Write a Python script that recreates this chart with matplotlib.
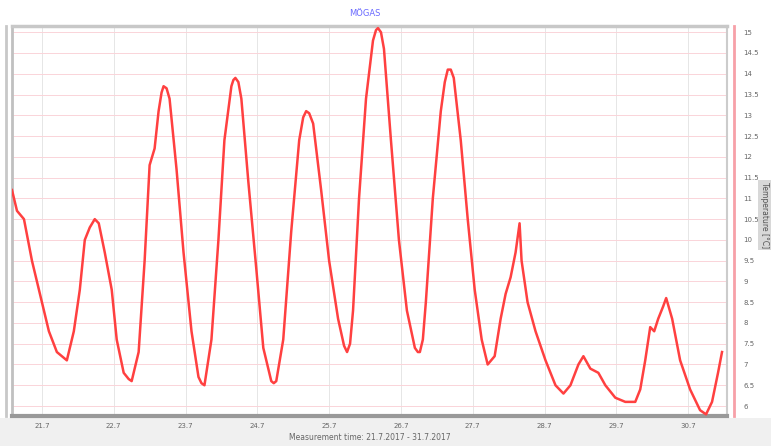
import matplotlib
matplotlib.use("Agg")
import matplotlib.pyplot as plt
import pandas as pd

title = "MÖGAS"
x_label = "Measurement time: 21.7.2017 - 31.7.2017"
y_label = "Temperature [°C]"

times = [
    "2017-07-20 14:00", "2017-07-20 15:40", "2017-07-20 18:00", "2017-07-20 20:40",
    "2017-07-21 00:00", "2017-07-21 02:20", "2017-07-21 05:00", "2017-07-21 08:20",
    "2017-07-21 10:40", "2017-07-21 12:40", "2017-07-21 14:20", "2017-07-21 16:00",
    "2017-07-21 17:40", "2017-07-21 19:00", "2017-07-21 21:00", "2017-07-21 23:20",
    "2017-07-22 01:00", "2017-07-22 03:20", "2017-07-22 05:00", "2017-07-22 06:00", "2017-07-22 08:20",
    "2017-07-22 10:20", "2017-07-22 12:00", "2017-07-22 13:40", "2017-07-22 15:00",
    "2017-07-22 16:00", "2017-07-22 16:40", "2017-07-22 17:40", "2017-07-22 18:40", "2017-07-22 21:00", "2017-07-22 23:20",
    "2017-07-23 02:00", "2017-07-23 04:20", "2017-07-23 05:20", "2017-07-23 06:20", "2017-07-23 08:40",
    "2017-07-23 11:00", "2017-07-23 13:00", "2017-07-23 15:20", "2017-07-23 16:00", "2017-07-23 16:40",
    "2017-07-23 17:40", "2017-07-23 18:40", "2017-07-23 21:00", "2017-07-23 23:40", "2017-07-24 02:00",
    "2017-07-24 04:40", "2017-07-24 05:30", "2017-07-24 06:20", "2017-07-24 08:40", "2017-07-24 11:20",
    "2017-07-24 14:00", "2017-07-24 15:20", "2017-07-24 16:20", "2017-07-24 17:20", "2017-07-24 18:40", "2017-07-24 21:20",
    "2017-07-25 00:00", "2017-07-25 03:00", "2017-07-25 05:00", "2017-07-25 06:00", "2017-07-25 07:00", "2017-07-25 08:00",
    "2017-07-25 10:00", "2017-07-25 12:20", "2017-07-25 14:40", "2017-07-25 15:40", "2017-07-25 16:20",
    "2017-07-25 17:20", "2017-07-25 18:20", "2017-07-25 20:40", "2017-07-25 23:20", "2017-07-26 02:00",
    "2017-07-26 04:40", "2017-07-26 05:40", "2017-07-26 06:20", "2017-07-26 07:20", "2017-07-26 08:20", "2017-07-26 10:40",
    "2017-07-26 13:20", "2017-07-26 14:40", "2017-07-26 15:40", "2017-07-26 16:40", "2017-07-26 17:40", "2017-07-26 20:00",
    "2017-07-26 22:20", "2017-07-27 00:40", "2017-07-27 03:00", "2017-07-27 05:00",
    "2017-07-27 07:20", "2017-07-27 09:20", "2017-07-27 11:00", "2017-07-27 12:40",
    "2017-07-27 14:20", "2017-07-27 15:40", "2017-07-27 16:20", "2017-07-27 18:20",
    "2017-07-27 21:00", "2017-07-28 00:20", "2017-07-28 03:40", "2017-07-28 06:20",
    "2017-07-28 08:40", "2017-07-28 11:20", "2017-07-28 13:00", "2017-07-28 15:20",
    "2017-07-28 18:00", "2017-07-28 20:20", "2017-07-28 23:40", "2017-07-29 03:00",
    "2017-07-29 06:20", "2017-07-29 08:00", "2017-07-29 09:40", "2017-07-29 11:20",
    "2017-07-29 12:40", "2017-07-29 14:00", "2017-07-29 15:40", "2017-07-29 16:40",
    "2017-07-29 18:40", "2017-07-29 21:20", "2017-07-30 00:40", "2017-07-30 04:00",
    "2017-07-30 06:00", "2017-07-30 08:00", "2017-07-30 10:00", "2017-07-30 11:20",
]
values = [
    11.2, 10.7, 10.5, 9.5,
    8.5, 7.8, 7.3, 7.1,
    7.8, 8.8, 10.0, 10.3,
    10.5, 10.4, 9.7, 8.8,
    7.6, 6.8, 6.65, 6.6, 7.3,
    9.5, 11.8, 12.2, 13.1,
    13.55, 13.7, 13.65, 13.4, 11.7, 9.7,
    7.8, 6.7, 6.55, 6.5, 7.6,
    10.0, 12.4, 13.7, 13.85, 13.9,
    13.8, 13.4, 11.4, 9.3, 7.4,
    6.6, 6.55, 6.6, 7.6, 10.2,
    12.4, 12.95, 13.1, 13.05, 12.8, 11.2,
    9.5, 8.1, 7.45, 7.3, 7.5, 8.3,
    11.0, 13.4, 14.8, 15.05, 15.1,
    15.0, 14.6, 12.4, 10.0, 8.3,
    7.4, 7.3, 7.3, 7.6, 8.5, 11.0,
    13.1, 13.8, 14.1, 14.1, 13.9, 12.4,
    10.5, 8.8, 7.6, 7.0,
    7.2, 8.1, 8.7, 9.1,
    9.7, 10.4, 9.5, 8.5,
    7.8, 7.1, 6.5, 6.3,
    6.5, 7.0, 7.2, 6.9,
    6.8, 6.5, 6.2, 6.1,
    6.1, 6.4, 7.1, 7.9,
    7.8, 8.1, 8.4, 8.6,
    8.1, 7.1, 6.4, 5.9,
    5.8, 6.1, 6.8, 7.3,
]
day_ticks = ["2017-07-21", "2017-07-22", "2017-07-23", "2017-07-24", "2017-07-25",
             "2017-07-26", "2017-07-27", "2017-07-28", "2017-07-29", "2017-07-30"]
day_labels = ["21.7", "22.7", "23.7", "24.7", "25.7", "26.7", "27.7", "28.7", "29.7", "30.7"]
y_ticks = [6, 6.5, 7, 7.5, 8, 8.5, 9, 9.5, 10, 10.5, 11, 11.5, 12, 12.5, 13, 13.5, 14, 14.5, 15]

t = pd.to_datetime(times)
ticks = pd.to_datetime(day_ticks)

W, H = 771, 446
fig = plt.figure(figsize=(W / 100, H / 100), dpi=100)
fig.patch.set_facecolor("white")
fig.add_artist(plt.Rectangle((0, 0), 1, 28 / H, transform=fig.transFigure,
                             facecolor="#f0f0f0", edgecolor="none", zorder=0))

ax = fig.add_axes([12 / W, 30 / H, (727 - 12) / W, (420 - 30) / H])
ax.set_facecolor("white")

ax.plot(t, values, color="#ff4040", lw=1.8, zorder=3, solid_joinstyle="round")

x0 = pd.Timestamp("2017-07-20 14:00")
x1 = pd.Timestamp("2017-07-30 13:00")
ax.set_xlim(x0, x1)
ax.set_ylim(5.76, 15.15)

ax.set_xticks(ticks)
ax.set_xticklabels(day_labels, fontsize=5, color="#666666")
ax.set_yticks(y_ticks)
ax.set_yticklabels([f"{v:g}" for v in y_ticks], fontsize=5, color="#666666")
ax.yaxis.tick_right()
ax.tick_params(axis="y", length=0, pad=12)
ax.tick_params(axis="x", length=0, pad=5)

ax.grid(axis="y", color="#fad4d9", lw=0.7)
ax.grid(axis="x", color="#e6e6e6", lw=0.7)
ax.set_axisbelow(True)

ax.spines["top"].set_color("#c8c8c8")
ax.spines["top"].set_linewidth(2.5)
ax.spines["bottom"].set_color("#999999")
ax.spines["bottom"].set_linewidth(3)
ax.spines["left"].set_color("#c0c0c0")
ax.spines["left"].set_linewidth(2)
ax.spines["right"].set_color("#cccccc")
ax.spines["right"].set_linewidth(1.5)

fig.add_artist(plt.Line2D([6 / W, 6 / W], [30 / H, 420 / H], transform=fig.transFigure,
                          color="#c8c8c8", lw=2))
fig.add_artist(plt.Line2D([734 / W, 734 / W], [30 / H, 420 / H], transform=fig.transFigure,
                          color="#f7a0a8", lw=2))

fig.text(365 / W, 1 - 13 / H, title, ha="center", va="center", fontsize=6, color="#6a6aff")
fig.text(370 / W, 1 - 437 / H, x_label, ha="center", va="center", fontsize=5.5, color="#666666")
fig.text(765 / W, 1 - 215 / H, y_label, ha="center", va="center", fontsize=5.5,
         color="#555555", rotation=270,
         bbox=dict(facecolor="#d8d8d8", edgecolor="none", pad=1.5))

fig.savefig("out.png", dpi=100)
